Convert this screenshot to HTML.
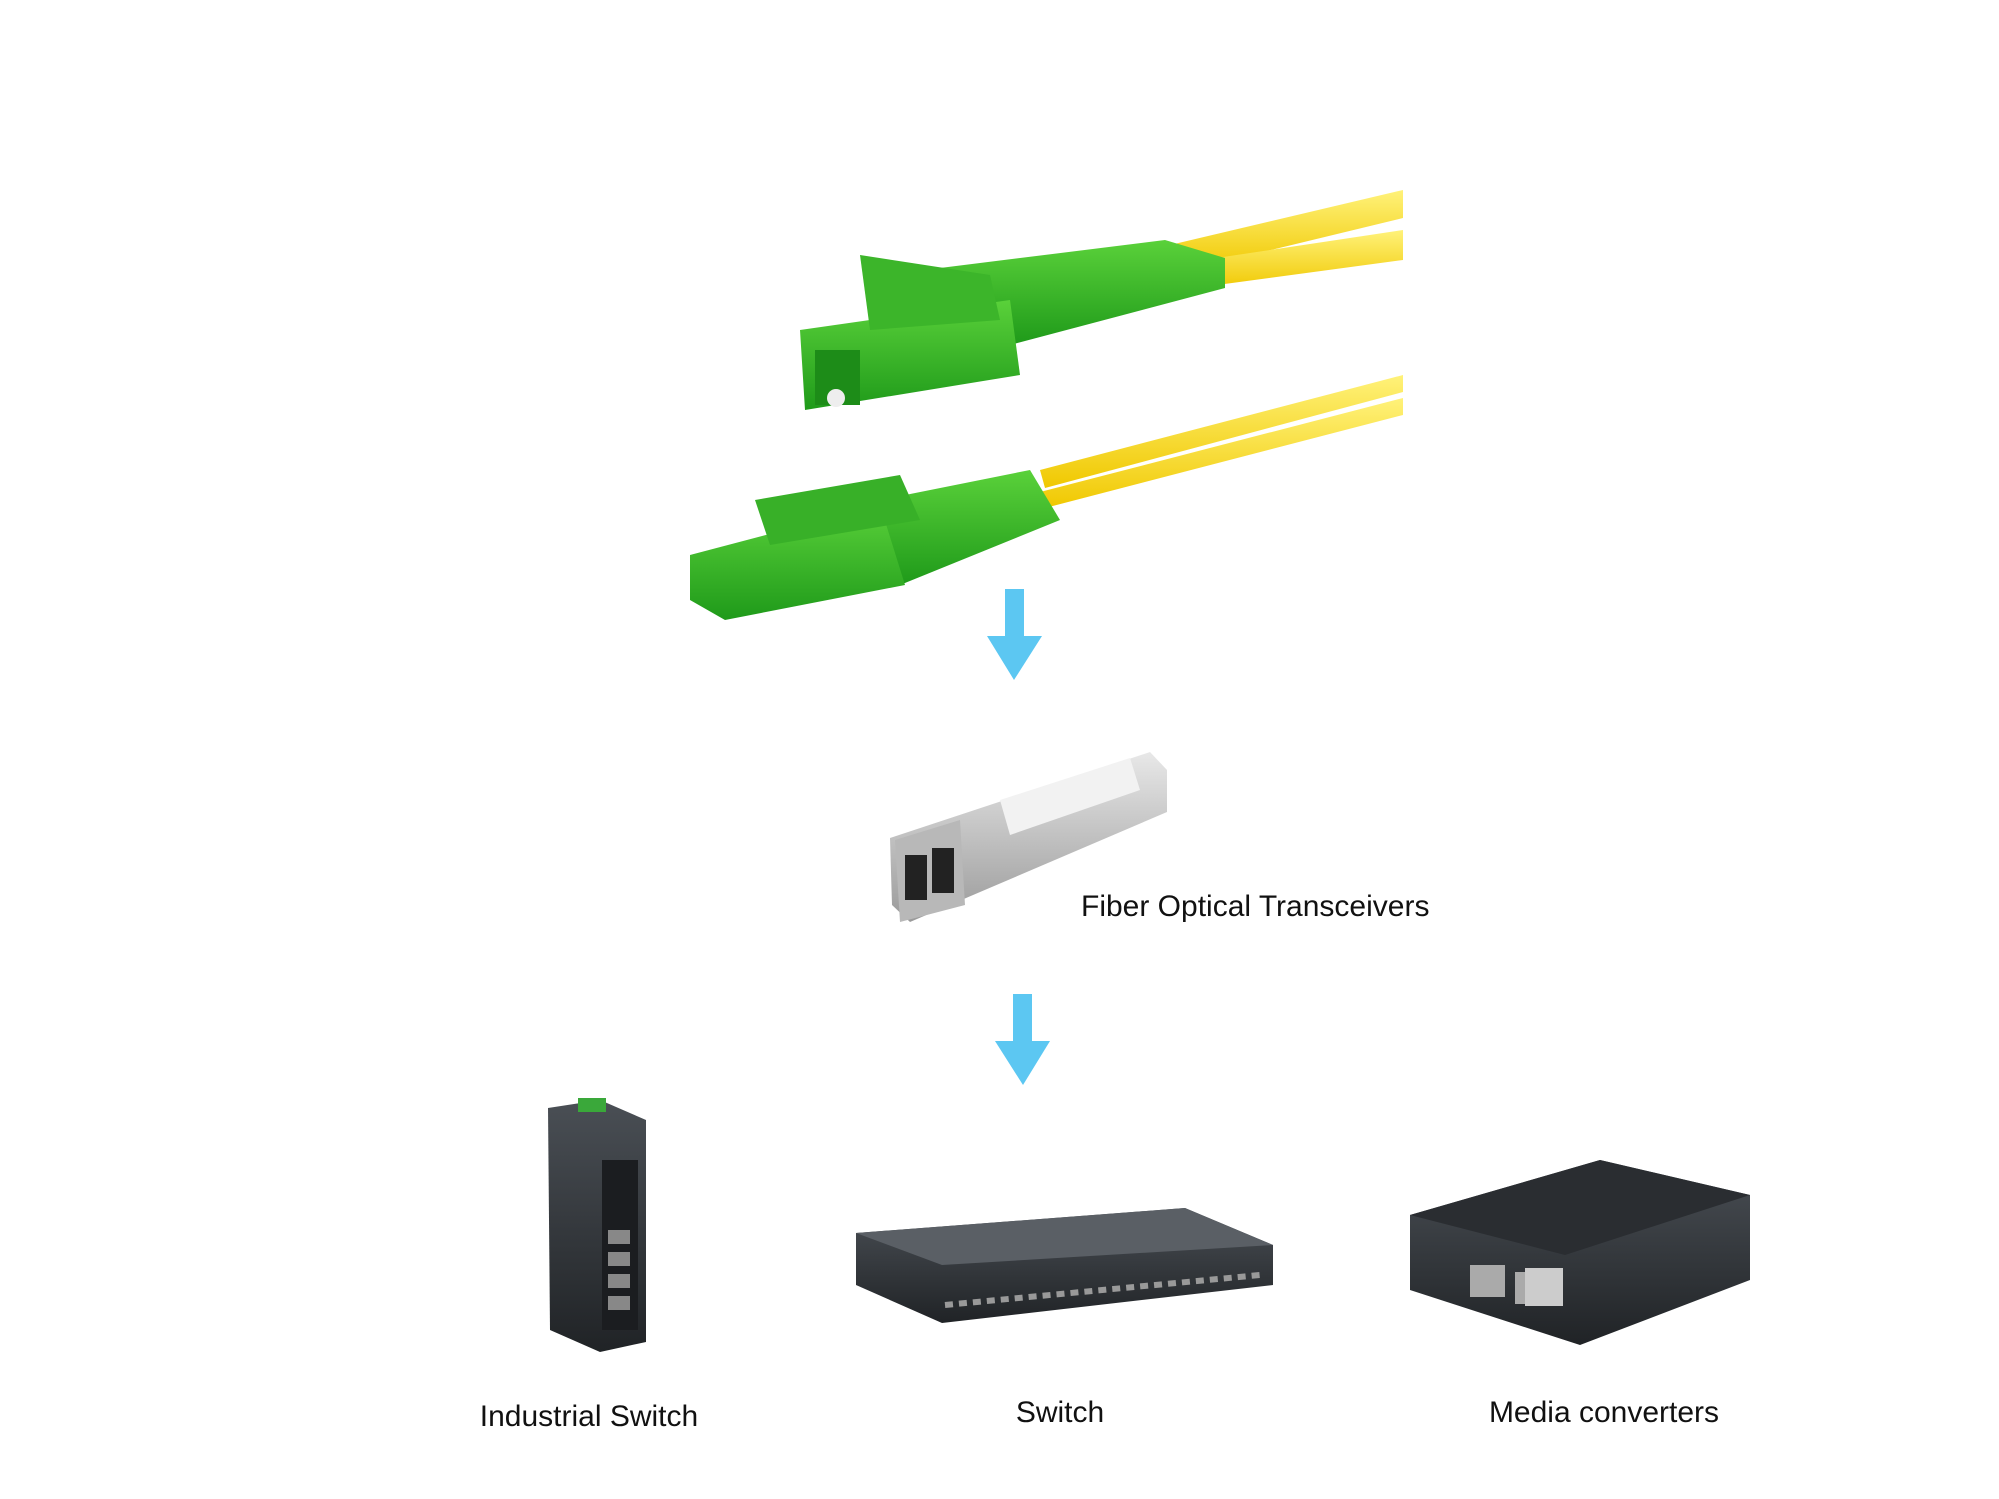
<!DOCTYPE html>
<html><head><meta charset="utf-8"><style>
html,body{margin:0;padding:0;background:#fff;}
svg{display:block}
text{font-family:"Liberation Sans",Arial,sans-serif;fill:#111;}
</style></head><body>
<svg width="1999" height="1499" viewBox="0 0 1999 1499" xmlns="http://www.w3.org/2000/svg">
<defs>
<linearGradient id="yel" x1="0" y1="0" x2="0" y2="1"><stop offset="0" stop-color="#fff27a"/><stop offset="1" stop-color="#f0c800"/></linearGradient>
<linearGradient id="grn" x1="0" y1="0" x2="0" y2="1"><stop offset="0" stop-color="#5ad13a"/><stop offset="1" stop-color="#1f9a1a"/></linearGradient>
<linearGradient id="met" x1="0" y1="0" x2="0" y2="1"><stop offset="0" stop-color="#e8e8e8"/><stop offset="1" stop-color="#9a9a9a"/></linearGradient>
<linearGradient id="dk" x1="0" y1="0" x2="0" y2="1"><stop offset="0" stop-color="#4a4f55"/><stop offset="1" stop-color="#202326"/></linearGradient>
</defs>
<!-- upper connector -->
<polygon points="1170,245 1403,190 1403,218 1180,272" fill="url(#yel)"/>
<polygon points="1170,265 1403,230 1403,260 1180,290" fill="url(#yel)"/>
<polygon points="940,268 1165,240 1225,258 1225,288 1010,345 940,330" fill="url(#grn)"/>
<polygon points="800,330 1010,300 1020,375 805,410" fill="url(#grn)"/>
<polygon points="860,255 990,275 1000,320 870,330" fill="#3cb52a"/>
<rect x="815" y="350" width="45" height="55" fill="#1d8c18"/>
<circle cx="836" cy="398" r="9" fill="#eee"/>
<!-- lower connector -->
<polygon points="1040,470 1403,375 1403,392 1045,488" fill="url(#yel)"/>
<polygon points="1040,492 1403,398 1403,415 1045,508" fill="url(#yel)"/>
<polygon points="880,500 1030,470 1060,520 900,585" fill="url(#grn)"/>
<polygon points="690,555 880,505 905,585 725,620 690,600" fill="url(#grn)"/>
<polygon points="755,500 900,475 920,520 770,545" fill="#38b028"/>
<!-- arrow 1 -->
<rect x="1005" y="589" width="19" height="50" fill="#5cc7f2"/>
<polygon points="987,636 1042,636 1014,680" fill="#5cc7f2"/>
<!-- transceiver -->
<polygon points="890,838 1150,752 1167,770 1167,812 910,922 892,905" fill="url(#met)"/>
<polygon points="895,840 960,820 965,905 900,922" fill="#b8b8b8"/>
<rect x="905" y="855" width="22" height="45" fill="#222"/>
<rect x="932" y="848" width="22" height="45" fill="#222"/>
<polygon points="1000,800 1130,758 1140,790 1010,835" fill="#f2f2f2"/>
<text x="1081" y="916" font-size="30">Fiber Optical Transceivers</text>
<!-- arrow 2 -->
<rect x="1013" y="994" width="19" height="50" fill="#5cc7f2"/>
<polygon points="995,1041 1050,1041 1023,1085" fill="#5cc7f2"/>
<!-- industrial switch -->
<polygon points="548,1108 600,1100 646,1120 646,1342 600,1352 550,1330" fill="url(#dk)"/>
<rect x="578" y="1098" width="28" height="14" fill="#3aa83a"/>
<rect x="602" y="1160" width="36" height="170" fill="#1b1d20"/>
<g fill="#888"><rect x="608" y="1230" width="22" height="14"/><rect x="608" y="1252" width="22" height="14"/><rect x="608" y="1274" width="22" height="14"/><rect x="608" y="1296" width="22" height="14"/></g>
<!-- switch -->
<polygon points="856,1233 1185,1208 1273,1245 1273,1285 942,1323 856,1285" fill="url(#dk)"/>
<polygon points="856,1233 1185,1208 1273,1245 942,1265" fill="#5a5f65"/>
<line x1="945" y1="1305" x2="1260" y2="1275" stroke="#999" stroke-width="6" stroke-dasharray="8 6"/>
<!-- media converter -->
<polygon points="1410,1215 1600,1160 1750,1195 1750,1280 1580,1345 1410,1290" fill="url(#dk)"/>
<polygon points="1410,1215 1600,1160 1750,1195 1565,1255" fill="#2a2d31"/>
<rect x="1470" y="1265" width="35" height="32" fill="#aaa"/>
<rect x="1515" y="1272" width="35" height="32" fill="#aaa"/>
<rect x="1525" y="1268" width="38" height="38" fill="#ccc"/>
<text x="589" y="1426" font-size="30" text-anchor="middle">Industrial Switch</text>
<text x="1060" y="1422" font-size="30" text-anchor="middle">Switch</text>
<text x="1604" y="1422" font-size="30" text-anchor="middle">Media converters</text>
</svg>
</body></html>
